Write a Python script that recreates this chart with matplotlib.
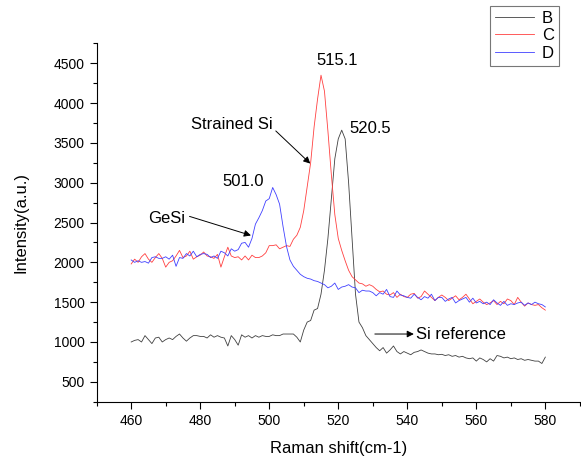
import matplotlib.pyplot as plt
import numpy as np
from matplotlib.ticker import MultipleLocator

plt.rcParams.update({
    "font.family": ["Liberation Sans", "DejaVu Sans"],
    "font.size": 10,
    "axes.unicode_minus": False,
})

# Raman shift, 1 cm-1 steps
raman_shift = np.arange(460, 581)

intensity_b = [
    1000, 1020, 1030, 1000, 1080, 1030, 980, 1050, 1060, 1000,
    1030, 1050, 1030, 1070, 1100, 1050, 1010, 1050, 1080, 1080,
    1070, 1070, 1050, 1090, 1060, 1080, 1060, 1050, 950, 1080,
    1030, 960, 1090, 1060, 1080, 1050, 1080, 1060, 1080, 1070,
    1070, 1090, 1080, 1080, 1100, 1100, 1100, 1100, 1060, 1000,
    1150, 1250, 1270, 1400, 1420, 1600, 1900, 2300, 2800, 3300,
    3550, 3660, 3550, 3000, 2300, 1600, 1250, 1180, 1080, 1030,
    980, 930, 890, 930, 860, 900, 950, 880, 850, 880,
    860, 840, 870, 880, 900, 880, 860, 850, 850, 840,
    845, 830, 840, 820, 830, 810, 820, 800, 790, 800,
    760, 800, 780, 750, 790, 760, 830, 820, 800, 810,
    790, 800, 780, 790, 770, 780, 770, 760, 760, 730,
    810,
]

intensity_c = [
    1980, 2040, 2000, 2070, 2110, 2040, 2000, 2060, 2110, 2050,
    1940, 2000, 2020, 2080, 2150, 2060, 2080, 2140, 2040, 2070,
    2090, 2130, 2080, 2070, 2050, 2100, 1940, 2070, 2190, 2080,
    2060, 2070, 2030, 2080, 2030, 2090, 2060, 2060, 2080, 2120,
    2210, 2210, 2220, 2170, 2190, 2210, 2200, 2290, 2340, 2440,
    2650, 2950, 3250, 3700, 4050, 4350, 4150, 3650, 3100, 2600,
    2300, 2150, 2020, 1900, 1820, 1780, 1740, 1730, 1700, 1720,
    1700, 1660, 1630, 1640, 1600, 1590, 1620, 1560, 1600, 1570,
    1560, 1600, 1610, 1550, 1570, 1640, 1600, 1560, 1520, 1560,
    1590, 1560, 1520, 1550, 1580, 1530, 1560, 1600, 1540, 1480,
    1510, 1540, 1500, 1470, 1490, 1520, 1470, 1510, 1480, 1540,
    1520, 1470, 1560, 1500, 1450, 1490, 1470, 1460, 1470, 1430,
    1400,
]

intensity_d = [
    2030, 2000, 2020, 2000, 2010, 1990, 2060, 2070, 2050, 2050,
    2070, 2040, 2090, 1950, 2060, 2050, 2110, 2080, 2140, 2070,
    2100, 2110, 2100, 2060, 2080, 2050, 2140, 2120, 2080, 2170,
    2140, 2160, 2240, 2250, 2190, 2300, 2480, 2560, 2650, 2770,
    2800, 2940, 2850, 2730, 2450, 2200, 2030, 1950, 1900, 1850,
    1820, 1800, 1790, 1770, 1760, 1740, 1720, 1680, 1700, 1740,
    1660, 1690, 1700, 1720, 1690, 1680, 1620, 1650, 1640, 1640,
    1620, 1580, 1620, 1600, 1660, 1570, 1560, 1640, 1590, 1580,
    1560, 1550, 1600, 1560, 1530, 1570, 1550, 1600, 1520, 1560,
    1560, 1510, 1540, 1560, 1490, 1520, 1540, 1560, 1500, 1550,
    1490, 1510, 1480, 1500, 1470, 1530, 1490, 1460, 1510, 1460,
    1480, 1470, 1490, 1500, 1460, 1490, 1470, 1500, 1480, 1470,
    1440,
]

series_labels = ["B", "C", "D"]
series_colors = ["#404040", "#ff4040", "#4040ff"]

peak_labels = ["515.1", "520.5", "501.0"]

fig = plt.figure(figsize=(5.81, 4.61), dpi=100)
ax = fig.add_axes([0.1664, 0.1286, 0.8316, 0.7774])

handles = []
for y, lab, col in zip([intensity_b, intensity_c, intensity_d], series_labels, series_colors):
    (ln,) = ax.plot(raman_shift, y, color=col, lw=0.6, label=lab)
    handles.append(ln)

ax.set_xlim(450, 590)
ax.set_ylim(250, 4750)
ax.xaxis.set_minor_locator(MultipleLocator(10))
ax.yaxis.set_minor_locator(MultipleLocator(250))
ax.set_xticks(np.arange(460, 581, 20))
ax.set_yticks(np.arange(500, 4501, 500))
ax.tick_params(which="major", direction="out", length=5, width=0.8, labelsize=10)
ax.tick_params(which="minor", direction="out", length=3, width=0.8)
for side in ["top", "right"]:
    ax.spines[side].set_visible(False)

ax.set_xlabel("Raman shift(cm-1)", fontsize=12, labelpad=10)
ax.set_ylabel("Intensity(a.u.)", fontsize=12, labelpad=18)

# peak positions
ax.text(519.6, 4530, peak_labels[0], ha="center", va="center", fontsize=12)
ax.text(529.4, 3685, peak_labels[1], ha="center", va="center", fontsize=12)
ax.text(492.4, 3010, peak_labels[2], ha="center", va="center", fontsize=12)

arrow = dict(arrowstyle="-|>", color="black", lw=0.7, mutation_scale=10, shrinkA=0, shrinkB=0)
ax.text(489.2, 3732, "Strained Si", ha="center", va="center", fontsize=12)
ax.annotate("", xy=(511.9, 3240), xytext=(501.9, 3650), arrowprops=arrow)
ax.text(470.4, 2548, "GeSi", ha="center", va="center", fontsize=12)
ax.annotate("", xy=(494.7, 2338), xytext=(476.9, 2577), arrowprops=arrow)
ax.text(542.4, 1100, "Si reference", ha="left", va="center", fontsize=12)
ax.annotate("", xy=(541.9, 1100), xytext=(530.6, 1100), arrowprops=arrow)

leg = fig.legend(handles=handles, labels=series_labels, loc="upper right",
                 bbox_to_anchor=(0.962, 0.988), fontsize=12,
                 frameon=True, fancybox=False, handlelength=2.3, borderpad=0.3,
                 labelspacing=0.15, handletextpad=0.5, borderaxespad=0)
leg.get_frame().set_edgecolor("#555555")
leg.get_frame().set_linewidth(0.8)

fig.savefig("out.png", dpi=100)
